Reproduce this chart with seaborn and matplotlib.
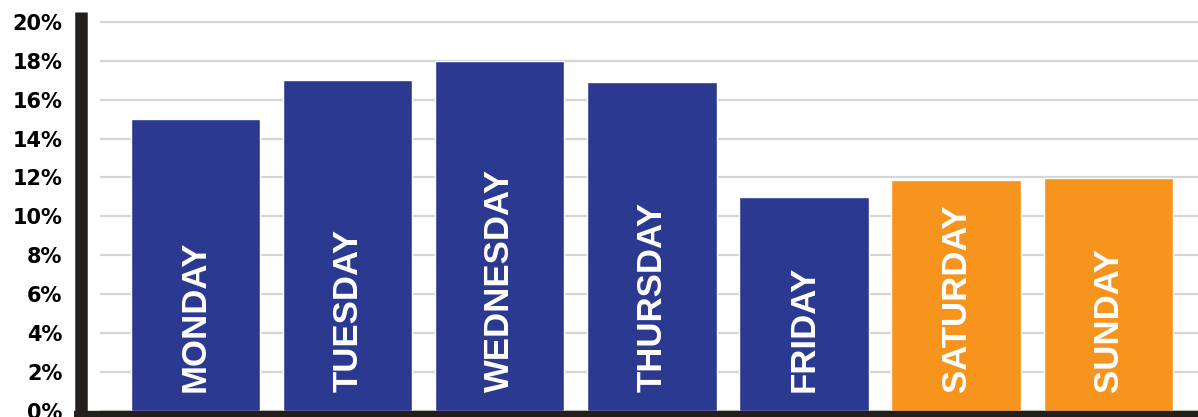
import matplotlib
matplotlib.use("Agg")

import pandas as pd
import matplotlib.pyplot as plt
import seaborn as sns

# ==========================================================
# DATA
# ==========================================================

days = ["MONDAY", "TUESDAY", "WEDNESDAY", "THURSDAY",
        "FRIDAY", "SATURDAY", "SUNDAY"]

share = [15.0, 17.0, 18.0, 16.9, 11.0, 11.85, 11.95]

bar_colors = ["#2b3990", "#2b3990", "#2b3990", "#2b3990",
              "#2b3990", "#f7941d", "#f7941d"]

y_ticks = [0, 2, 4, 6, 8, 10, 12, 14, 16, 18, 20]
y_tick_labels = [f"{v}%" for v in y_ticks]

df = pd.DataFrame({"day": days, "share": share})

# ==========================================================
# PLOT
# ==========================================================

sns.set_style("white")
plt.rcParams["font.family"] = ["DejaVu Sans"]
plt.rcParams["font.weight"] = "bold"

fig = plt.figure(figsize=(11.98, 4.17), dpi=100)
ax = fig.add_axes([100 / 1198, 6 / 417, 1098 / 1198, 399 / 417])

sns.barplot(
    data=df,
    x="day",
    y="share",
    hue="day",
    palette=bar_colors,
    width=0.85,
    saturation=1,
    legend=False,
    ax=ax
)

# day names inside the bars
for i, name in enumerate(days):
    ax.text(i, 1.0, name, rotation=90, ha="center", va="bottom",
            color="white", fontsize=25, fontweight="bold",
            family="Liberation Sans")

ax.set_xlim(-0.628, 6.59)
ax.set_ylim(0, 20.5)
ax.set_xticks([])
ax.set_xlabel("")
ax.set_ylabel("")

# grid + tick_params rebuild the ticks, so do them before the labels
ax.yaxis.grid(True, color="#d5d5d5", linewidth=1.6)
ax.set_axisbelow(True)
ax.tick_params(axis="y", length=0, pad=13, labelsize=15,
               labelcolor="black")

ax.set_yticks(y_ticks)
ax.set_yticklabels(y_tick_labels)

# thick dark axis lines
for side in ["top", "right"]:
    ax.spines[side].set_visible(False)

ax.spines["left"].set_position(("outward", 14))
ax.spines["left"].set_linewidth(9)
ax.spines["left"].set_color("#221f1d")
ax.spines["left"].set_capstyle("butt")

ax.spines["bottom"].set_position(("outward", 3))
ax.spines["bottom"].set_linewidth(6)
ax.spines["bottom"].set_color("#221f1d")
ax.spines["bottom"].set_bounds(-0.80, 6.59)
ax.spines["bottom"].set_capstyle("butt")

fig.savefig("out.png", dpi=100)
